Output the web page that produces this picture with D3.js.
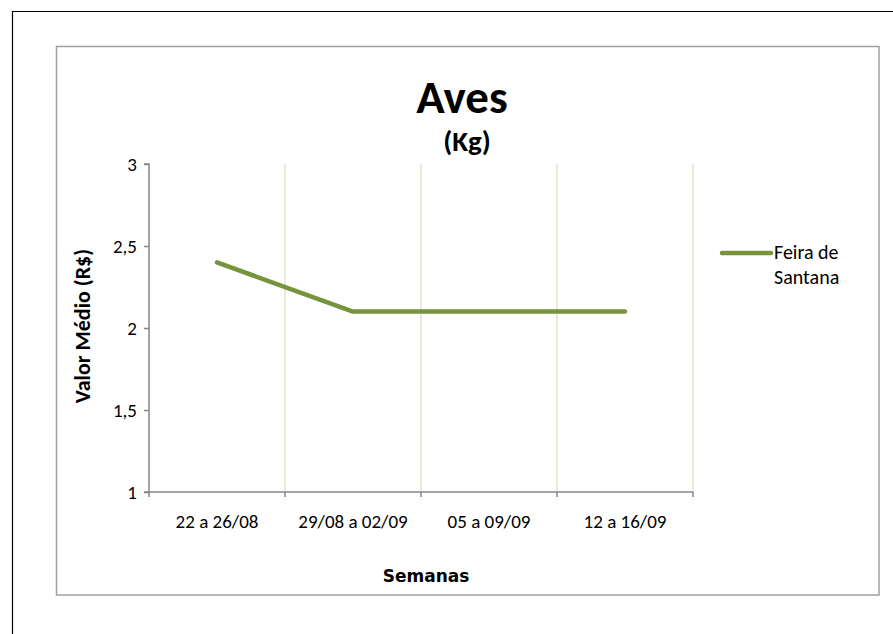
<!DOCTYPE html>
<html><head><meta charset="utf-8">
<script src="https://cdn.jsdelivr.net/npm/d3@7"></script>
<style>body{margin:0;background:#fff}svg{display:block}</style>
</head><body>
<script>
const categories = ["22 a 26/08", "29/08 a 02/09", "05 a 09/09", "12 a 16/09"];
const seriesName = "Feira de Santana";
const values = [2.4, 2.1, 2.1, 2.1];
const yTicks = [1, 1.5, 2, 2.5, 3];

const W = 893, H = 634;
const svg = d3.select("body").append("svg").attr("width", W).attr("height", H);
const font = "Carlito, Lato, 'Open Sans', sans-serif";

// outer frame
svg.append("path").attr("d", "M12.5,634 V11.5 H893").attr("fill", "none").attr("stroke", "#000").attr("stroke-width", 1.2);
// chart frame
svg.append("rect").attr("x", 56.5).attr("y", 46.5).attr("width", 822.5).attr("height", 548.5)
  .attr("fill", "#fff").attr("stroke", "#a0a0a0").attr("stroke-width", 1.5);

const x = d3.scaleBand().domain(categories).range([149, 693]);
const y = d3.scaleLinear().domain([1, 3]).range([492, 164]);

// vertical gridlines at category boundaries
const bounds = categories.map(c => x(c) + x.bandwidth());
svg.append("g").selectAll("line").data(bounds).join("line")
  .attr("x1", d => d).attr("x2", d => d).attr("y1", y(3)).attr("y2", y(1))
  .attr("stroke", "#dde7c6").attr("stroke-width", 1.5);

// y axis
const yAxis = d3.axisLeft(y).tickValues(yTicks).tickSize(5).tickPadding(7)
  .tickFormat(d => String(d).replace(".", ","));
const gy = svg.append("g").attr("transform", "translate(149,0)").call(yAxis);
gy.attr("font-size", null).attr("font-family", null);
gy.select(".domain").attr("stroke", "#868686").attr("stroke-width", 1.5).attr("d", `M-5,${y(3)}H0V${y(1)}H-5`);
gy.selectAll(".tick line").attr("stroke", "#868686").attr("stroke-width", 1.5);
gy.selectAll("text").attr("font-family", font).attr("font-size", 19).attr("fill", "#000");

// x axis
const gx = svg.append("g").attr("transform", "translate(0,492)");
gx.append("line").attr("x1", 149).attr("x2", 693).attr("y1", 0).attr("y2", 0).attr("stroke", "#868686").attr("stroke-width", 1.5);
gx.selectAll("line.t").data([149, ...bounds]).join("line").attr("class", "t")
  .attr("x1", d => d).attr("x2", d => d).attr("y1", 0).attr("y2", 5).attr("stroke", "#868686").attr("stroke-width", 1.5);
gx.selectAll("text").data(categories).join("text")
  .attr("x", d => x(d) + x.bandwidth() / 2).attr("y", 36).attr("text-anchor", "middle")
  .attr("font-family", font).attr("font-size", 19).text(d => d);

// line
const line = d3.line().x((d, i) => x(categories[i]) + x.bandwidth() / 2).y(d => y(d));
svg.append("path").datum(values).attr("d", line).attr("fill", "none")
  .attr("stroke", "#77933c").attr("stroke-width", 4.5).attr("stroke-linecap", "round").attr("stroke-linejoin", "round");

// titles
svg.append("text").attr("x", 462).attr("y", 113).attr("text-anchor", "middle")
  .attr("font-family", font).attr("font-weight", "bold").attr("font-size", 47).text("Aves");
svg.append("text").attr("x", 467).attr("y", 151).attr("text-anchor", "middle")
  .attr("font-family", font).attr("font-weight", "bold").attr("font-size", 29).text("(Kg)");
svg.append("text").attr("transform", "translate(90,326) rotate(-90)").attr("text-anchor", "middle")
  .attr("font-family", font).attr("font-weight", "bold").attr("font-size", 22).text("Valor Médio (R$)");
svg.append("text").attr("x", 426).attr("y", 582).attr("text-anchor", "middle")
  .attr("font-family", "'DejaVu Sans', sans-serif").attr("font-weight", "bold").attr("font-size", 17).text("Semanas");

// legend
svg.append("line").attr("x1", 722).attr("x2", 771).attr("y1", 253).attr("y2", 253)
  .attr("stroke", "#77933c").attr("stroke-width", 4.5).attr("stroke-linecap", "round");
const lt = svg.append("text").attr("font-family", font).attr("font-size", 20);
lt.append("tspan").attr("x", 774).attr("y", 259).text("Feira de");
lt.append("tspan").attr("x", 774).attr("y", 284).text("Santana");
</script>
</body></html>
